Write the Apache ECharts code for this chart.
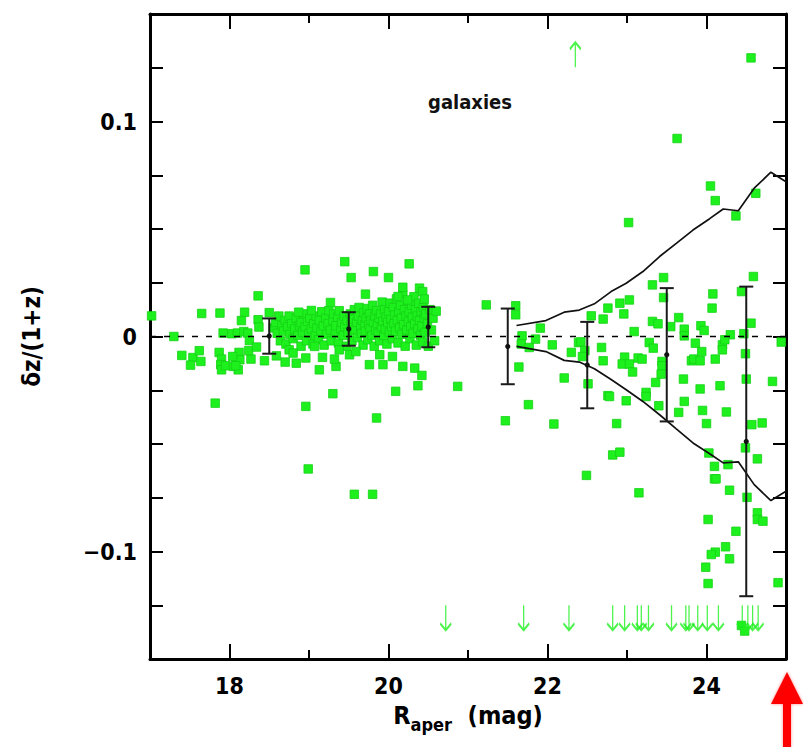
<!DOCTYPE html>
<html>
<head>
<meta charset="utf-8">
<script src="https://cdn.jsdelivr.net/npm/echarts@6/dist/echarts.min.js"></script>
<style>html,body{margin:0;padding:0;background:#fff}#c{width:804px;height:747px}</style>
</head>
<body>
<div id="c"></div>
<script>
// ---------- axis ranges and ticks ----------
const xMin = 17, xMax = 25;
const yMin = -0.15, yMax = 0.15, yStep = 0.025;
const xMajorTicks = [18, 20, 22, 24];
const xMinorTicks = [19, 21, 23];

// ---------- galaxies: bright sources (R < 18.5) ----------
const brightPoints = [
  [17.02,0.0096],[17.30,0.0],[17.40,-0.0088],[17.54,-0.0098],[17.51,-0.0133],[17.62,-0.0066],
  [17.64,-0.0116],[17.65,0.0107],[17.82,-0.031],[17.88,0.0109],[17.92,0.0016],[17.87,-0.0074],
  [17.90,-0.0105],[17.89,-0.0131],[17.90,-0.0155],[17.95,-0.0136],[18.03,0.0013],[18.08,-0.0096],
  [18.12,-0.0074],[18.05,-0.0139],[18.11,-0.0155],[18.15,0.0074],[18.19,0.0113],[18.10,0.0016],
  [18.18,0.0023],[18.23,0.0016],[18.25,-0.0019],[18.27,-0.0105],[18.24,-0.0066],[18.36,0.0189],
  [18.34,-0.0049],[18.36,0.0078],[18.37,0.0044],[18.44,-0.0113],[18.50,0.0111],[18.59,-0.009],
  [18.13,-0.0108],[18.08,-0.0136],[18.04,-0.0093]
];

// ---------- galaxies: dense band 18.5 - 20.6 ----------
const bandPoints = [
  [18.55,0.004],[18.58,0.0065],[18.60,0.0015],[18.62,0.0095],[18.64,-0.002],[18.66,0.005],
  [18.68,0.0025],[18.70,0.0075],[18.71,-0.0035],[18.73,0.0045],[18.75,0.0095],[18.76,0.001],
  [18.78,0.006],[18.80,-0.001],[18.82,0.0035],[18.84,0.0085],[18.86,0.0005],[18.88,0.005],
  [18.90,-0.0045],[18.90,0.0065],[18.92,0.002],[18.93,0.0105],[18.95,0.0045],[18.97,-0.002],
  [18.98,0.007],[19.00,0.0015],[19.01,0.0085],[19.03,0.0035],[19.05,-0.0035],[19.06,0.006],
  [19.08,0.0005],[19.09,0.0095],[19.10,0.004],[19.12,-0.0015],[19.13,0.0075],[19.15,0.0025],
  [19.16,0.0115],[19.18,0.005],[19.19,-0.004],[19.21,0.0085],[19.22,0.001],[19.24,0.006],
  [19.25,0.012],[19.27,0.003],[19.28,-0.002],[19.30,0.0075],[19.31,0.0105],[19.33,0.0015],
  [19.34,0.005],[19.36,0.009],[19.37,-0.003],[19.38,0.012],[19.40,0.0035],[19.41,0.0065],
  [19.43,0.0005],[19.44,0.0095],[19.45,0.0045],[19.47,-0.0045],[19.48,0.0075],[19.49,0.002],
  [19.52,0.0105],[19.53,0.0055],[19.54,-0.002],[19.56,0.008],[19.57,0.0125],[19.58,0.003],
  [19.60,0.0065],[19.61,-0.0005],[19.62,0.0095],[19.63,0.0135],[19.65,0.0045],[19.66,0.0015],
  [19.67,0.0075],[19.68,-0.004],[19.69,0.011],[19.70,0.0055],[19.71,0.0025],[19.72,0.0085],
  [19.73,0.013],[19.74,-0.0015],[19.75,0.0055],[19.76,0.0105],[19.77,0.0035],[19.78,0.0075],
  [19.79,0.0005],[19.80,0.0145],[19.81,0.0065],[19.82,-0.0045],[19.83,0.0095],[19.84,0.003],
  [19.85,0.012],[19.86,0.006],[19.87,0.0015],[19.88,0.0085],[19.89,-0.002],[19.90,0.0105],
  [19.91,0.0045],[19.92,0.016],[19.93,0.007],[19.94,0.0005],[19.95,0.0125],[19.96,0.0035],
  [19.97,0.009],[19.98,-0.0035],[19.99,0.0065],[20.00,0.0115],[20.01,0.002],[20.02,0.0155],
  [20.03,0.008],[20.04,0.0045],[20.05,-0.001],[20.06,0.0135],[20.07,0.006],[20.08,0.01],
  [20.09,0.0025],[20.10,0.0175],[20.11,0.0075],[20.12,-0.003],[20.13,0.0115],[20.14,0.004],
  [20.15,0.0145],[20.16,0.0085],[20.17,0.001],[20.18,0.0195],[20.19,0.0055],[20.20,0.0125],
  [20.21,-0.0045],[20.22,0.0095],[20.23,0.003],[20.24,0.0165],[20.25,0.007],[20.26,0.0115],
  [20.27,-0.001],[20.28,0.0045],[20.29,0.0145],[20.30,0.009],[20.31,0.0015],[20.32,0.0185],
  [20.33,0.006],[20.34,0.0125],[20.35,-0.004],[20.36,0.0095],[20.37,0.0035],[20.38,0.0155],
  [20.39,0.0075],[20.40,0.0005],[20.41,0.0115],[20.42,0.005],[20.43,-0.0025],[20.44,0.0135],
  [20.45,0.0085],[20.46,0.002],[20.47,0.0105],[20.49,0.006],[20.50,-0.0045],[20.52,0.0125],
  [20.54,0.003],[20.56,0.0085],[20.58,-0.002]
];

// ---------- galaxies: outliers around the band (18.8 - 20.7) ----------
const bandOutliers = [
  [18.87,0.0113],[19.03,0.0121],[18.95,0.031],[19.27,0.0158],[19.45,0.0348],[19.53,0.0274],
  [19.71,0.0197],[19.81,0.0302],[20.00,0.0274],[20.26,0.0338],[20.18,0.0229],[20.12,0.0186],
  [20.39,0.0225],[20.43,0.0209],[20.45,0.0174],[20.60,0.0118],[20.24,0.017],
  [18.75,-0.0062],[18.70,-0.0119],[18.84,-0.0124],[18.96,-0.01],[18.80,-0.0077],[19.13,-0.0155],
  [19.17,-0.0097],[19.34,-0.0139],[19.32,-0.0105],[19.38,-0.0062],[19.51,-0.0085],[19.59,-0.007],
  [19.07,-0.0046],[19.76,-0.0131],[19.93,-0.0131],[19.89,-0.0085],[20.05,-0.0093],[20.18,-0.0139],
  [20.33,-0.0147],[20.42,-0.0181],[20.09,-0.0255],[20.37,-0.0229],[19.30,-0.0266],[18.96,-0.0325],
  [19.85,-0.0379],[18.99,-0.0616],[19.57,-0.0734],[19.80,-0.0734]
];

// ---------- galaxies: faint sources (R > 20.7) ----------
const faintPoints = [
  [20.87,-0.0232],[21.23,0.0147],[21.60,0.0143],[21.60,0.0101],[21.68,0.0003],[21.67,-0.0035],
  [21.77,-0.0051],[21.85,-0.0012],[21.91,0.0039],[21.64,-0.0142],[22.06,-0.0039],[21.76,-0.0317],
  [21.47,-0.0392],[22.08,-0.0407],[22.21,-0.0193],[22.30,-0.0074],[22.39,-0.0028],[22.42,-0.0025],
  [22.47,-0.0066],[22.44,-0.0093],[22.55,0.0096],[22.70,0.0081],[22.68,-0.0051],[22.70,-0.0113],
  [22.51,-0.022],[22.76,-0.0275],[22.76,0.0132],[22.49,-0.0646],[22.82,-0.0551],[22.91,-0.0538],
  [24.56,0.1296],[23.63,0.0921],[24.05,0.070],[24.11,0.0632],[24.37,0.0561],[24.62,0.0666],
  [23.02,0.053],[23.32,0.024],[23.46,0.0274],[23.46,0.0181],[23.03,0.017],[22.91,0.0155],
  [22.96,0.0105],[23.09,0.0023],[23.32,0.007],[23.39,0.0059],[23.55,0.0046],[23.65,0.0088],
  [23.72,0.0034],[23.93,0.005],[23.97,0.0028],[24.08,0.0198],[24.07,0.0132],[24.44,0.0209],
  [24.59,0.0279],[24.56,0.0062],[24.30,0.0008],[24.47,0.0013],
  [22.97,-0.0096],[22.94,-0.0128],[23.03,-0.0128],[23.07,-0.0165],[23.14,-0.01],[23.19,-0.0105],
  [23.28,-0.0028],[23.33,-0.0054],[23.44,-0.0116],[23.44,-0.0136],[23.43,-0.0175],[23.36,-0.0214],
  [23.24,-0.026],[23.24,-0.0279],[22.78,-0.0279],[22.99,-0.0299],[23.40,-0.0322],[22.87,-0.0405],
  [23.15,-0.0727],[23.71,-0.0198],[23.72,-0.0302],[23.65,-0.0353],[23.92,-0.0244],[23.95,-0.0344],
  [24.00,-0.0405],[24.17,-0.0229],[24.25,-0.0351],[24.11,-0.0105],[23.81,-0.0113],[23.84,-0.0105],
  [23.92,-0.0113],[23.86,-0.0031],[23.94,-0.007],[23.72,0.0003],[24.20,-0.0039],[24.20,-0.0062],
  [24.23,-0.0015],[24.49,-0.008],[24.50,-0.0198],[24.94,-0.0026],[24.83,-0.0209],[24.57,-0.041],
  [24.70,-0.0402],[24.49,-0.0518],[24.64,-0.0569],[24.03,-0.0542],[24.10,-0.0604],[24.10,-0.0662],
  [24.12,-0.0662],[24.27,-0.0596],[24.29,-0.0715],[24.51,-0.0748],[24.02,-0.0851],[24.37,-0.0906],
  [24.64,-0.082],[24.64,-0.0851],[24.71,-0.0859],[24.24,-0.0978],[24.11,-0.1003],[24.06,-0.1014],
  [24.29,-0.1034],[23.99,-0.1073],[24.02,-0.1149],[24.90,-0.1145],[24.44,-0.1344],[24.48,-0.137],
  [24.45,-0.1505]
];

// ---------- off-scale sources (arrows) ----------
const downArrowX = [20.72,21.70,22.27,22.82,22.97,23.13,23.18,23.27,23.56,23.74,23.78,23.89,24.01,24.15,24.45,24.52,24.58,24.65];
const downArrowY = -0.1308;
const upArrowX = [22.35];
const upArrowY = 0.131;

// ---------- binned mean and scatter ----------
const binX    = [18.5, 19.5, 20.5, 21.5, 22.5, 23.5, 24.5];
const binMean = [0.0002, 0.0035, 0.0044, -0.0046, -0.0133, -0.0085, -0.0488];
const binErr  = [0.0082, 0.0078, 0.0094, 0.0176, 0.0201, 0.0310, 0.0720];

// ---------- expected envelope ----------
const envX     = [21.61, 21.98, 22.21, 22.40, 22.59, 22.80, 22.99, 23.20, 23.41, 23.62, 23.83, 24.04, 24.21, 24.40, 24.60, 24.81, 25.0];
const envUpper = [0.0051, 0.0074, 0.0113, 0.0123, 0.0152, 0.0209, 0.0248, 0.0302, 0.0372, 0.0433, 0.0495, 0.0548, 0.0593, 0.0585, 0.0690, 0.0764, 0.0720];
const envLower = [-0.0046, -0.0070, -0.0111, -0.0119, -0.0150, -0.0200, -0.0248, -0.0302, -0.0364, -0.0430, -0.0495, -0.0545, -0.0588, -0.0583, -0.0689, -0.0763, -0.0720];

const zeroLine = [[xMin, 0], [xMax, 0]];

// ---------- styling ----------
const FONT = 'DejaVu Sans Condensed, DejaVu Sans, sans-serif';
const GREEN = '#1ef01e';
const ARROW_DOWN = 'path://M5,0 L5,24 M0.5,17.5 L5,24 L9.5,17.5';
const ARROW_UP = 'path://M5,24 L5,0 M0.5,6.5 L5,0 L9.5,6.5';

function yLabel(v) {
  const k = Math.round(v * 40);
  if (k % 4 !== 0) return '';
  const t = k / 4;
  if (t === 0) return '0';
  return (t < 0 ? '\u22120.' : '0.') + Math.abs(t);
}

function xAxisDef(position, ticks, len, showLine, showLabel, extra) {
  return Object.assign({
    type: 'value', min: xMin, max: xMax, position: position,
    axisLine: { show: showLine, onZero: false, lineStyle: { color: '#000', width: 3 } },
    axisTick: { show: true, inside: true, length: len, customValues: ticks, lineStyle: { color: '#000', width: 2 } },
    axisLabel: { show: showLabel, customValues: ticks, margin: 15, color: '#000', fontSize: 23, fontWeight: 'bold', fontFamily: FONT },
    splitLine: { show: false }
  }, extra || {});
}

function yAxisDef(position, showLabel, extra) {
  return Object.assign({
    type: 'value', min: yMin, max: yMax, interval: yStep, position: position,
    axisLine: { show: true, onZero: false, lineStyle: { color: '#000', width: 3 } },
    axisTick: { show: true, inside: true, length: 13, lineStyle: { color: '#000', width: 2 } },
    axisLabel: { show: showLabel, formatter: yLabel, margin: 13, color: '#000', fontSize: 23, fontWeight: 'bold', fontFamily: FONT },
    splitLine: { show: false }
  }, extra || {});
}

const chart = echarts.init(document.getElementById('c'), null, { renderer: 'svg', width: 804, height: 747 });

chart.setOption({
  animation: false,
  backgroundColor: '#fff',
  grid: { left: 150, right: 18, top: 14, bottom: 88, containLabel: false },
  xAxis: [
    xAxisDef('bottom', xMajorTicks, 15, true, true, {
      name: '{r|R}{s|aper}{r|  (mag)}', nameLocation: 'middle', nameGap: 44,
      nameTextStyle: { rich: {
        r: { fontSize: 25, fontWeight: 'bold', fontFamily: FONT, color: '#000', verticalAlign: 'top' },
        s: { fontSize: 18, fontWeight: 'bold', fontFamily: FONT, color: '#000', verticalAlign: 'top', padding: [12, 0, 0, 0] }
      } }
    }),
    xAxisDef('bottom', xMinorTicks, 9, false, false),
    xAxisDef('top', xMajorTicks, 15, true, false),
    xAxisDef('top', xMinorTicks, 9, false, false)
  ],
  yAxis: [
    yAxisDef('left', true, {
      name: 'δz/(1+z)', nameLocation: 'middle', nameGap: 106,
      nameTextStyle: { fontSize: 24, fontWeight: 'bold', fontFamily: FONT, color: '#000' }
    }),
    yAxisDef('right', false)
  ],
  series: [
    {
      type: 'scatter', name: 'galaxies', xAxisIndex: 0, yAxisIndex: 0, z: 2,
      symbol: 'rect', symbolSize: 8.5,
      itemStyle: { color: GREEN, borderColor: '#14d214', borderWidth: 0.8, opacity: 1 },
      data: brightPoints.concat(bandPoints, bandOutliers, faintPoints)
    },
    {
      type: 'scatter', name: 'lower limits', z: 3,
      symbol: ARROW_DOWN, symbolSize: [11, 25], symbolKeepAspect: false,
      itemStyle: { color: 'rgba(0,0,0,0)', borderColor: GREEN, borderWidth: 1.9 },
      data: downArrowX.map(x => [x, downArrowY])
    },
    {
      type: 'scatter', name: 'upper limits', z: 3,
      symbol: ARROW_UP, symbolSize: [11, 25], symbolKeepAspect: false,
      itemStyle: { color: 'rgba(0,0,0,0)', borderColor: GREEN, borderWidth: 1.9 },
      data: upArrowX.map(x => [x, upArrowY])
    },
    {
      type: 'line', name: 'zero', z: 4, symbol: 'none', silent: true,
      lineStyle: { color: '#000', width: 1.6, type: [6, 8] },
      data: zeroLine
    },
    {
      type: 'line', name: 'upper envelope', z: 5, symbol: 'none', silent: true,
      lineStyle: { color: '#111', width: 1.7 },
      data: envX.map((x, i) => [x, envUpper[i]])
    },
    {
      type: 'line', name: 'lower envelope', z: 5, symbol: 'none', silent: true,
      lineStyle: { color: '#111', width: 1.7 },
      data: envX.map((x, i) => [x, envLower[i]])
    },
    {
      type: 'custom', name: 'binned', z: 6,
      data: binX.map((x, i) => [x, binMean[i], binErr[i]]),
      renderItem: function (params, api) {
        const x = api.value(0), m = api.value(1), e = api.value(2);
        const top = api.coord([x, m + e]);
        const bot = api.coord([x, m - e]);
        const mid = api.coord([x, m]);
        const cw = 7;
        const st = { stroke: '#1a1a1a', lineWidth: 2 };
        return { type: 'group', children: [
          { type: 'line', shape: { x1: top[0], y1: top[1], x2: bot[0], y2: bot[1] }, style: st },
          { type: 'line', shape: { x1: top[0] - cw, y1: top[1], x2: top[0] + cw, y2: top[1] }, style: st },
          { type: 'line', shape: { x1: bot[0] - cw, y1: bot[1], x2: bot[0] + cw, y2: bot[1] }, style: st },
          { type: 'circle', shape: { cx: mid[0], cy: mid[1], r: 2.6 }, style: { fill: '#111' } }
        ] };
      }
    }
  ],
  graphic: [
    {
      type: 'text', x: 470, y: 102, z: 10,
      style: { text: 'galaxies', font: 'bold 20px ' + FONT, fill: '#111', align: 'center', verticalAlign: 'middle', textAlign: 'center', textVerticalAlign: 'middle' }
    },
    {
      type: 'polygon', z: 10,
      shape: { points: [[787, 672], [771, 704], [803, 704]] },
      style: { fill: '#ff0000', shadowBlur: 3, shadowColor: 'rgba(255,0,0,0.45)' }
    },
    {
      type: 'rect', z: 10,
      shape: { x: 783, y: 700, width: 8, height: 47 },
      style: { fill: '#ff0000', shadowBlur: 3, shadowColor: 'rgba(255,0,0,0.45)' }
    }
  ]
});
</script>
</body>
</html>
